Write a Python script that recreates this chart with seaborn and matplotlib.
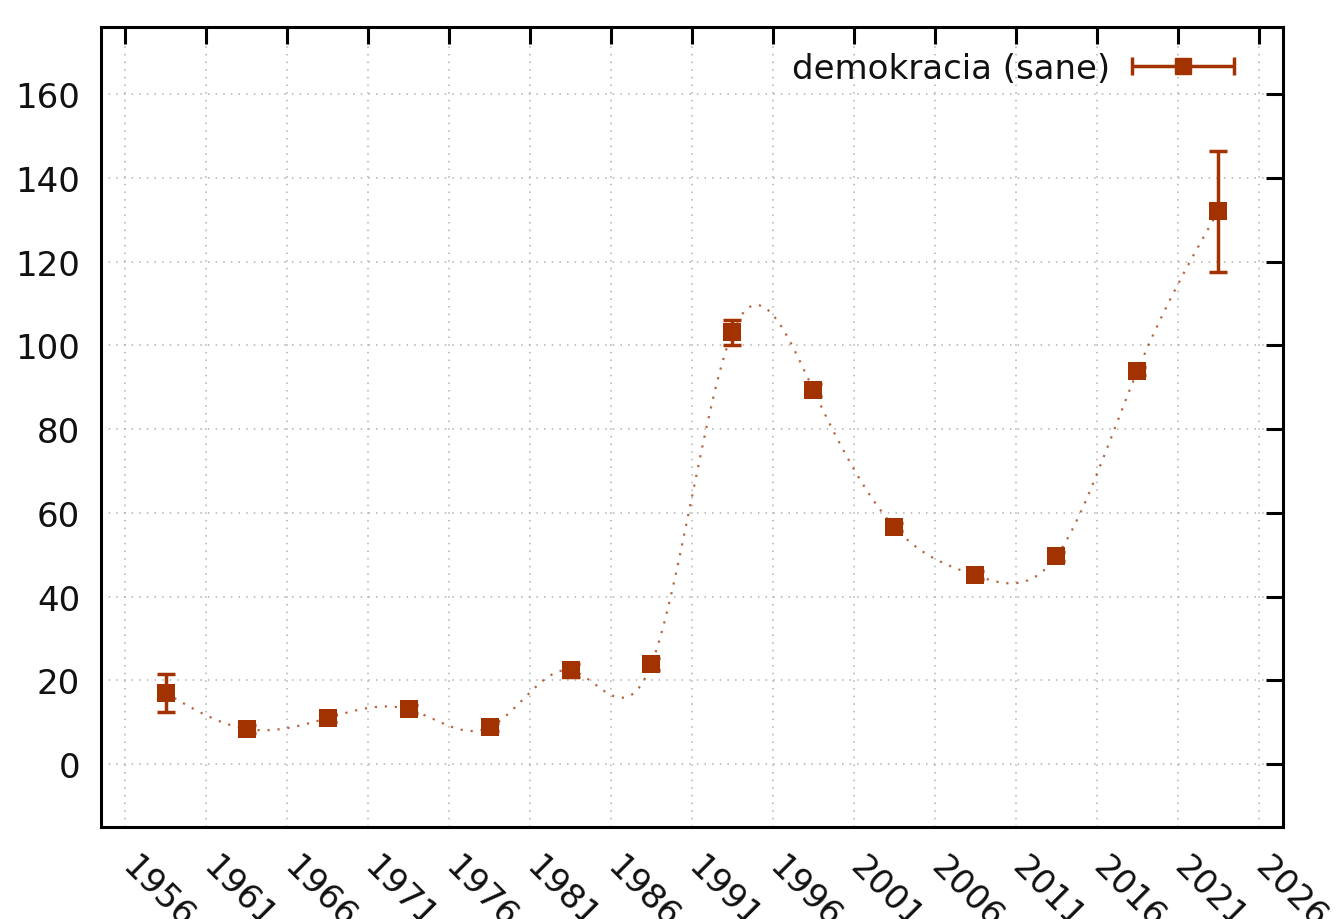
import numpy as np
import pandas as pd
import matplotlib
matplotlib.use("Agg")
import matplotlib.pyplot as plt
import matplotlib.transforms as mtransforms
from matplotlib.legend_handler import HandlerErrorbar
import seaborn as sns

# ---- data ----
years = [1958.5, 1963.5, 1968.5, 1973.5, 1978.5, 1983.5, 1988.5,
         1993.5, 1998.5, 2003.5, 2008.5, 2013.5, 2018.5, 2023.5]
values = [17.0, 8.4, 11.0, 13.1, 8.8, 22.4, 23.9,
          103.1, 89.3, 56.6, 45.1, 49.6, 93.8, 132.0]
errors = [4.5, 1.0, 1.0, 1.0, 1.0, 1.5, 1.5,
          3.0, 1.5, 1.0, 1.0, 1.0, 1.0, 14.5]
xticks = [1956, 1961, 1966, 1971, 1976, 1981, 1986, 1991, 1996,
          2001, 2006, 2011, 2016, 2021, 2026]
yticks = [0, 20, 40, 60, 80, 100, 120, 140, 160]
label = "demokracia (sane)"

color = "#a23200"


def natural_cubic_spline(x, y, n=600):
    x = np.asarray(x, float)
    y = np.asarray(y, float)
    m = len(x)
    h = np.diff(x)
    A = np.zeros((m, m))
    b = np.zeros(m)
    A[0, 0] = 1
    A[-1, -1] = 1
    for i in range(1, m - 1):
        A[i, i - 1] = h[i - 1]
        A[i, i] = 2 * (h[i - 1] + h[i])
        A[i, i + 1] = h[i]
        b[i] = 3 * ((y[i + 1] - y[i]) / h[i] - (y[i] - y[i - 1]) / h[i - 1])
    c = np.linalg.solve(A, b)
    bb = np.zeros(m - 1)
    d = np.zeros(m - 1)
    for i in range(m - 1):
        bb[i] = (y[i + 1] - y[i]) / h[i] - h[i] * (2 * c[i] + c[i + 1]) / 3
        d[i] = (c[i + 1] - c[i]) / (3 * h[i])
    xs = np.linspace(x[0], x[-1], n)
    idx = np.clip(np.searchsorted(x, xs) - 1, 0, m - 2)
    dx = xs - x[idx]
    ys = y[idx] + bb[idx] * dx + c[idx] * dx ** 2 + d[idx] * dx ** 3
    return xs, ys


df = pd.DataFrame({"year": years, "value": values, "err": errors})
sx, sy = natural_cubic_spline(years, values)
curve = pd.DataFrame({"year": sx, "value": sy})

sns.set_theme(style="white")
plt.rcParams["font.family"] = ["DejaVu Sans"]

fig = plt.figure(figsize=(13.37, 9.2), dpi=100)
ax = fig.add_axes([0.0755, 0.1, 0.8841, 0.8696])

sns.lineplot(data=curve, x="year", y="value", ax=ax, color=color,
             linewidth=1.6, linestyle=(0, (1, 3.5)), alpha=0.75,
             legend=False, zorder=2)
ax.errorbar(df["year"], df["value"], yerr=df["err"], fmt="none",
            ecolor=color, elinewidth=2.5, capsize=6.5, capthick=2.5, zorder=3)
sns.scatterplot(data=df, x="year", y="value", ax=ax, marker="s", s=175,
                color=color, edgecolor=color, linewidth=0, zorder=4,
                legend=False)

# legend handle: horizontal error bar as in the reference
leg_h = ax.errorbar([np.nan], [np.nan], xerr=[1], fmt="s", color=color,
                    markersize=11, elinewidth=2.5, capsize=6.5, capthick=2.5)
leg = ax.legend([leg_h], [label], loc="upper right", frameon=False,
                markerfirst=False, fontsize=24.5, handlelength=3.2,
                handletextpad=0.55, borderaxespad=0.3,
                bbox_to_anchor=(0.982, 0.998),
                handler_map={type(leg_h): HandlerErrorbar(xerr_size=1.5)})
for t in leg.get_texts():
    t.set_color("#111111")

ax.set_xlim(1954.5, 2027.5)
ax.set_ylim(-15, 176)
ax.set_xticks(xticks)
ax.set_yticks(yticks)
ax.set_xticklabels([str(t) for t in xticks], rotation=-45, ha="left",
                   va="top", rotation_mode="anchor")
ax.set_xlabel("")
ax.set_ylabel("")
ax.tick_params(direction="in", length=12, width=2.2, labelsize=24.5,
               top=True, right=True, colors="black")
ax.tick_params(axis="y", pad=15)
ax.tick_params(axis="x", pad=16)
offset = mtransforms.ScaledTranslation(13 / 100, 0, fig.dpi_scale_trans)
for lbl in ax.get_xticklabels():
    lbl.set_transform(lbl.get_transform() + offset)
for lbl in ax.get_xticklabels() + ax.get_yticklabels():
    lbl.set_color("#111111")
for sp in ax.spines.values():
    sp.set_visible(True)
    sp.set_linewidth(2.2)
    sp.set_color("black")
ax.grid(True, color="#b0b0b0", linestyle=(0, (1, 4)), linewidth=1.1)
ax.set_axisbelow(True)

fig.savefig("out.png", dpi=100)
